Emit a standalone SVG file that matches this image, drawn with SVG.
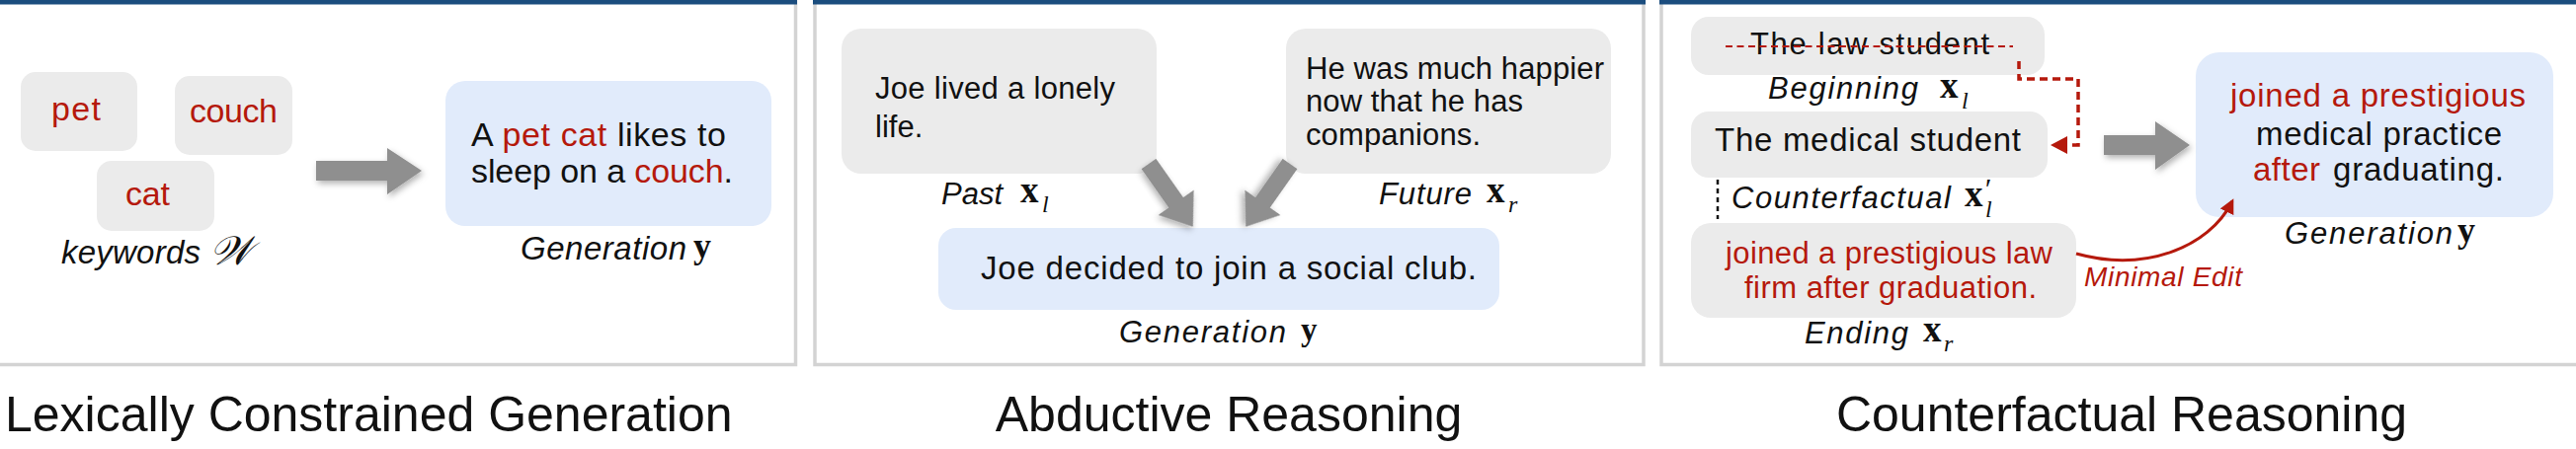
<svg xmlns="http://www.w3.org/2000/svg" width="2608" height="455" viewBox="0 0 2608 455">
<style>
.t{font-family:"Liberation Sans",Arial,sans-serif;fill:#111;}
.r{fill:#b5190c;}
.i{font-style:italic;}
.mx{font-family:"Liberation Serif","Times New Roman",serif;font-weight:bold;fill:#111;}
.ms{font-family:"Liberation Serif","Times New Roman",serif;font-style:italic;fill:#111;}
.gbox{fill:#ebebeb;}
.bbox{fill:#e1ebfb;}
.arr{fill:#8f8f8f;filter:url(#sh);}
.frame{fill:#fff;stroke:#d3d3d3;stroke-width:3.5;}
.bar{fill:#1b4d7e;}
.title{font-family:"Liberation Sans",Arial,sans-serif;font-size:50px;fill:#111;}
</style>
<defs>
<filter id="sh" x="-40%" y="-40%" width="180%" height="180%">
<feDropShadow dx="2" dy="3" stdDeviation="3" flood-color="#000" flood-opacity="0.3"/>
</filter>
<marker id="redhead" markerWidth="5" markerHeight="5" refX="4" refY="2.5" orient="auto" markerUnits="strokeWidth">
<path d="M0,0 L5,2.5 L0,5 Z" fill="#b5190c"/>
</marker>
</defs>
<rect width="2608" height="455" fill="#fff"/>
<!-- panels -->
<g id="panels">
<rect class="frame" x="-5" y="2" width="810.5" height="367.5"/>
<rect class="frame" x="825" y="2" width="839" height="367.5"/>
<rect class="frame" x="1682" y="2" width="940" height="367.5"/>
<rect class="bar" x="0" y="0" width="807" height="4.5"/>
<rect class="bar" x="823" y="0" width="843" height="4.5"/>
<rect class="bar" x="1680" y="0" width="928" height="4.5"/>
</g>
<!-- Panel 1 -->
<g id="kw-pet"><rect class="gbox" x="21" y="73" width="118" height="80" rx="15"/><text class="t r" x="52" y="122" font-size="34" textLength="50">pet</text></g>
<g id="kw-couch"><rect class="gbox" x="177" y="77" width="119" height="80" rx="15"/><text class="t r" x="192" y="124" font-size="34" textLength="89">couch</text></g>
<g id="kw-cat"><rect class="gbox" x="98" y="163" width="119" height="71" rx="15"/><text class="t r" x="127" y="208" font-size="34" textLength="45">cat</text></g>
<g id="kw-label"><text class="t i" x="62" y="267" font-size="33" textLength="141">keywords</text><text x="212" y="268" font-family="'Liberation Serif',serif" font-style="italic" font-size="41" fill="#111">𝒲</text></g>
<g id="gen1"><rect class="bbox" x="451" y="82" width="330" height="147" rx="20"/>
<text class="t" x="477" y="148" font-size="34" textLength="258">A <tspan class="r">pet cat</tspan> likes to</text>
<text class="t" x="477" y="185" font-size="34" textLength="265">sleep on a <tspan class="r">couch</tspan>.</text>
<text class="t i" x="527" y="263" font-size="33" textLength="168">Generation</text><text class="mx" x="702" y="261" font-size="36">y</text></g>
<!-- Panel 2 -->
<g id="past"><rect class="gbox" x="852" y="29" width="319" height="147" rx="20"/>
<text class="t" x="886" y="100" font-size="31" textLength="243">Joe lived a lonely</text>
<text class="t" x="886" y="139" font-size="31">life.</text>
<text class="t i" x="953" y="207" font-size="31" textLength="62">Past</text><text class="mx" x="1033" y="205" font-size="37">x</text><text class="ms" x="1055" y="215" font-size="24">l</text></g>
<g id="future"><rect class="gbox" x="1302" y="29" width="329" height="147" rx="20"/>
<text class="t" x="1322" y="80" font-size="31" textLength="302">He was much happier</text>
<text class="t" x="1322" y="113" font-size="31" textLength="220">now that he has</text>
<text class="t" x="1322" y="147" font-size="31" textLength="177">companions.</text>
<text class="t i" x="1396" y="207" font-size="31" textLength="94">Future</text><text class="mx" x="1505" y="205" font-size="37">x</text><text class="ms" x="1527" y="215" font-size="24">r</text></g>
<g id="gen2"><rect class="bbox" x="950" y="231" width="568" height="83" rx="18"/>
<text class="t" x="993" y="283" font-size="33" textLength="502">Joe decided to join a social club.</text>
<text class="t i" x="1133" y="347" font-size="31" textLength="169">Generation</text><text class="mx" x="1317" y="345" font-size="33">y</text></g>
<!-- Panel 3 -->
<g id="beginning"><rect class="gbox" x="1712" y="17" width="358" height="59" rx="18"/>
<text class="t" x="1772" y="55" font-size="31" textLength="242">The law student</text>
<line x1="1747" y1="47" x2="2038" y2="47" stroke="#b5190c" stroke-width="2.2" stroke-dasharray="7 4.5"/>
<text class="t i" x="1790" y="100" font-size="31" textLength="152">Beginning</text><text class="mx" x="1964" y="99" font-size="37">x</text><text class="ms" x="1986" y="110" font-size="24">l</text></g>
<g id="counterfactual"><rect class="gbox" x="1712" y="113" width="361" height="67" rx="18"/>
<text class="t" x="1736" y="153" font-size="33" textLength="310">The medical student</text>
<line x1="1739" y1="182" x2="1739" y2="222" stroke="#111" stroke-width="2.5" stroke-dasharray="5 4"/>
<text class="t i" x="1753" y="211" font-size="31" textLength="222">Counterfactual</text><text class="mx" x="1989" y="209" font-size="37">x</text><text class="ms" x="2008" y="201" font-size="30">′</text><text class="ms" x="2010" y="220" font-size="24">l</text></g>
<g id="ending"><rect class="gbox" x="1712" y="226" width="390" height="96" rx="20"/>
<text class="t r" x="1747" y="267" font-size="31" textLength="331">joined a prestigious law</text>
<text class="t r" x="1766" y="302" font-size="31" textLength="296">firm after graduation.</text>
<text class="t i" x="1827" y="348" font-size="31" textLength="105">Ending</text><text class="mx" x="1947" y="346" font-size="37">x</text><text class="ms" x="1968" y="356" font-size="24">r</text></g>
<g id="gen3"><rect class="bbox" x="2223" y="53" width="362" height="167" rx="24"/>
<text class="t r" x="2258" y="108" font-size="33" textLength="299">joined a prestigious</text>
<text class="t" x="2284" y="147" font-size="33" textLength="249">medical practice</text>
<text class="t r" x="2281" y="183" font-size="33" textLength="68">after</text><text class="t" x="2362" y="183" font-size="33" textLength="173">graduating.</text>
<text class="t i" x="2313" y="247" font-size="31" textLength="170">Generation</text><text class="mx" x="2488" y="245" font-size="36">y</text></g>
<!-- connectors -->
<g id="connectors">
<polygon class="arr" points="320,163 392,163 392,150 427,173 392,197 392,183 320,183"/>
<polygon class="arr" transform="translate(1163,166) rotate(54.9)" points="0,-9 48,-9 48,-22 78,0 48,22 48,9 0,9"/>
<polygon class="arr" transform="translate(1306,166) rotate(125.1)" points="0,-9 48,-9 48,-22 78,0 48,22 48,9 0,9"/>
<polygon class="arr" points="2130,137 2182,137 2182,123 2217,147 2182,172 2182,157 2130,157"/>
<path d="M2044,62 V80 H2104 V147 H2092" fill="none" stroke="#b5190c" stroke-width="3.5" stroke-dasharray="8 5"/>
<polygon points="2093,138 2093,156 2076,147" fill="#b5190c"/>
<path d="M2102,257 C2170,276 2236,252 2260,204" fill="none" stroke="#b5190c" stroke-width="3" marker-end="url(#redhead)"/>
<text class="t i r" x="2110" y="290" font-size="28" textLength="160">Minimal Edit</text>
</g>
<!-- titles -->
<g id="titles">
<text class="title" x="5" y="437">Lexically Constrained Generation</text>
<text class="title" x="1244" y="437" text-anchor="middle">Abductive Reasoning</text>
<text class="title" x="2148" y="437" text-anchor="middle">Counterfactual Reasoning</text>
</g>
</svg>
